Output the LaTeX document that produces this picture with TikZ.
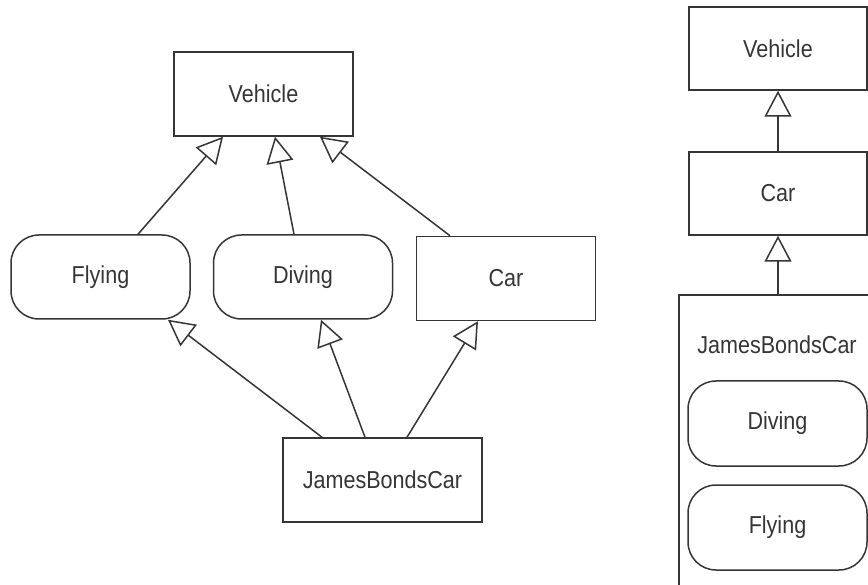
\documentclass[tikz,border=0pt]{standalone}
\usepackage{fontspec}
\setmainfont{Liberation Sans}[FakeStretch=0.88]
\usetikzlibrary{arrows.meta}
\definecolor{ink}{HTML}{353535}
\tikzset{
  cls/.style={draw=ink, line width=1.5pt, text=ink, inner sep=0pt,
    minimum width=179pt, minimum height=84pt, font=\fontsize{24.5}{28}\selectfont},
  mix/.style={cls, rounded corners=28pt},
  lbl/.style={text=ink, inner sep=0pt, font=\fontsize{24.5}{28}\selectfont},
  inh/.style={draw=ink, line width=1.5pt,
    -{Triangle[open, length=26pt, width=27pt, line width=1.5pt]}}
}
\begin{document}
\begin{tikzpicture}[x=1pt, y=-1pt]
\useasboundingbox (0,0) rectangle (868,585);
\clip (0,0) rectangle (868,585);
% left diagram
\node[cls] (vehL) at (263.5,94) {Vehicle};
\node[mix] (flyL) at (100.5,277) {Flying};
\node[mix] (divL) at (303,277) {Diving};
\node[cls] (carL) at (506,278.5) {Car};
\node[cls, minimum width=199pt] (jbcL) at (382.5,480) {JamesBondsCar};
\draw[inh] ([xshift=37.5pt]flyL.north) -- ([xshift=-40.5pt]vehL.south);
\draw[inh] ([xshift=-9pt]divL.north) -- ([xshift=11.5pt]vehL.south);
\draw[inh] ([xshift=-56pt]carL.north) -- ([xshift=56.5pt]vehL.south);
\draw[inh] ([xshift=-60.5pt]jbcL.north) -- ([xshift=67.5pt]flyL.south);
\draw[inh] ([xshift=-17.5pt]jbcL.north) -- ([xshift=18pt]divL.south);
\draw[inh] ([xshift=24.5pt]jbcL.north) -- ([xshift=-28pt]carL.south);
% right diagram
\node[cls, minimum width=178pt, minimum height=83pt] (vehR) at (778,48.5) {Vehicle};
\node[cls, minimum width=178pt, minimum height=83pt] (carR) at (778,193.5) {Car};
\node[draw=ink, line width=1.5pt, inner sep=0pt, minimum width=260pt, minimum height=340pt] (jbcR) at (809,465) {};
\node[lbl] (jbcRt) at (777,345) {JamesBondsCar};
\node[mix, minimum width=179pt, minimum height=85pt] (divR) at (777.5,423.5) {Diving};
\node[mix, minimum width=179pt, minimum height=85pt] (flyR) at (777.5,527.5) {Flying};
\draw[inh] (carR.north) -- (vehR.south);
\draw[inh] (carR.south |- jbcR.north) -- (carR.south);
\end{tikzpicture}
\end{document}
